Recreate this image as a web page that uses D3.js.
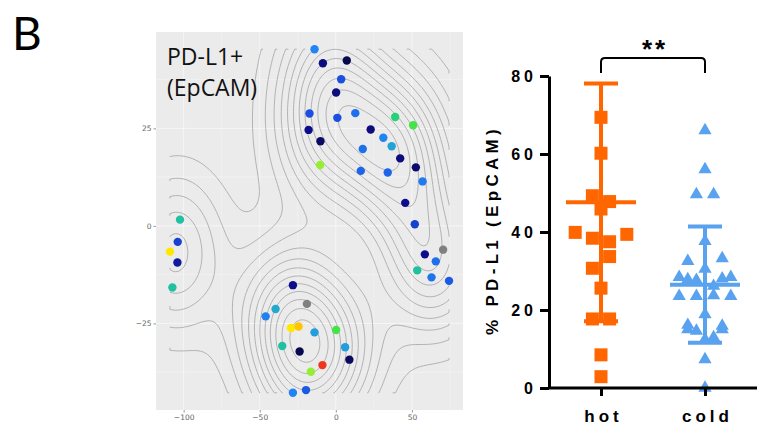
<!DOCTYPE html>
<html>
<head>
<meta charset="utf-8">
<script src="https://cdn.jsdelivr.net/npm/d3@7/dist/d3.min.js"></script>
<style>
  body { margin: 0; background: #fff; }
  svg text { font-family: "Liberation Sans", Arial, sans-serif; }
</style>
</head>
<body>
<svg id="fig" width="761" height="435"></svg>
<script>
// ---- left panel: tSNE map of the cells ----
let tsneX = [-14.0, -8.5, 7.2, 3.5, 0.2, -17.3, 1.0, 12.8, 39.0, 50.8, -17.9, -10.1, 22.9, 31.2, 36.7, 17.7, 42.3,
  -10.3, 16.4, 34.1, 52.6, 57.0, 45.6, 51.9, -102.4, -103.9, -109.0, -104.1, -107.4, 70.5, 58.5, 65.7, 53.5, 62.9,
  74.4, -28.2, -19.0, -39.6, -46.1, -29.5, -24.5, -14.0, 0.2, -35.2, -23.8, 6.1, 8.9, -8.8, -16.4, -28.2, -19.6];
let tsneY = [45.3, 41.7, 42.4, 37.6, 34.2, 28.8, 27.7, 28.9, 27.9, 25.8, 24.6, 21.7, 24.7, 22.6, 20.4, 19.7, 17.3,
  15.6, 14.1, 13.7, 15.0, 11.4, 5.9, 0.4, 1.6, -4.1, -6.6, -9.4, -15.8, -6.1, -7.3, -9.1, -11.4, -13.2, -14.1,
  -15.2, -20.0, -21.3, -23.2, -26.2, -25.8, -27.3, -26.7, -30.8, -32.2, -31.1, -34.3, -35.7, -37.4, -42.8, -42.1];
// PD-L1 level of each cell (0 = low, 1 = high), null = not measured
let tsneLevel = [0.3, 0.08, 0.02, 0.2, 0.08, 0.2, 0.2, 0.26, 0.55, 0.62, 0.1, 0.05, 0.08, 0.3, 0.4, 0.26, 0.08,
  0.7, 0.24, 0.24, 0.06, 0.28, 0.1, 0.18, 0.5, 0.18, 0.82, 0.12, 0.5, null, 0.1, 0.26, 0.5, 0.27, 0.22, 0.1, null,
  0.42, 0.29, 0.82, 0.87, 0.38, 0.62, 0.5, 0.02, 0.38, 0.04, 1.0, 0.7, 0.3, 0.22];
let tsneXTicks = [-100, -50, 0, 50];
let tsneYTicks = [-25, 0, 25];

// ---- right panel: % PD-L1 per tumour ----
let groups = ["hot", "cold"];
let hotValues = [69.4, 60.2, 49.3, 47.8, 45.9, 39.9, 38.4, 37.5, 39.4, 30.7, 33.7, 25.6, 17.7, 17.7, 8.5, 2.9];
let coldValues = [66.3, 56.3, 49.9, 49.9, 37.9, 32.8, 30.8, 33.5, 28.7, 28.1, 27.9, 26.4, 28.3, 28.7, 23.8, 23.8,
  24.0, 23.8, 16.4, 19.1, 16.2, 15.3, 14.9, 12.7, 13.2, 15.3, 7.6, 0.3];
let groupMean = [47.6, 26.5];
let groupSd = [30.5, 14.9];
let pctTicks = [0, 20, 40, 60, 80];

let svg = d3.select("#fig");

// panel letter
svg.append("text").attr("x", 12).attr("y", 50)
  .style("font-family", "Lato, 'Open Sans', sans-serif").style("font-size", "46px")
  .text("B");

// =================== tSNE panel ===================
let px0 = 156, px1 = 463, py0 = 32, py1 = 410;
let xExt = d3.extent(tsneX), yExt = d3.extent(tsneY);
let xPad = (xExt[1] - xExt[0]) * 0.05, yPad = (yExt[1] - yExt[0]) * 0.05;
let x = d3.scaleLinear().domain([xExt[0] - xPad, xExt[1] + xPad]).range([px0, px1]);
let y = d3.scaleLinear().domain([yExt[0] - yPad, yExt[1] + yPad]).range([py1, py0]);

svg.append("rect").attr("x", px0).attr("y", py0).attr("width", px1 - px0).attr("height", py1 - py0)
  .attr("fill", "#ebebeb");

// grid lines (major + minor like ggplot)
let grid = svg.append("g").attr("stroke", "#f6f6f6");
let minorX = tsneXTicks.map(t => t + 25).concat([tsneXTicks[0] - 25]).filter(t => x(t) > px0 && x(t) < px1);
let minorY = tsneYTicks.map(t => t + 12.5).concat([tsneYTicks[0] - 12.5]).filter(t => y(t) > py0 && y(t) < py1);
grid.selectAll(".vmin").data(minorX).enter().append("line")
  .attr("x1", d => x(d)).attr("x2", d => x(d)).attr("y1", py0).attr("y2", py1).attr("stroke-width", 0.5);
grid.selectAll(".hmin").data(minorY).enter().append("line")
  .attr("y1", d => y(d)).attr("y2", d => y(d)).attr("x1", px0).attr("x2", px1).attr("stroke-width", 0.5);
grid.selectAll(".vmaj").data(tsneXTicks).enter().append("line")
  .attr("x1", d => x(d)).attr("x2", d => x(d)).attr("y1", py0).attr("y2", py1).attr("stroke-width", 1);
grid.selectAll(".hmaj").data(tsneYTicks).enter().append("line")
  .attr("y1", d => y(d)).attr("y2", d => y(d)).attr("x1", px0).attr("x2", px1).attr("stroke-width", 1);

// 2D kernel density (same recipe as MASS::kde2d used by geom_density2d)
function bandwidthNrd(v) {
  let s = v.slice().sort(d3.ascending);
  let iqr = d3.quantileSorted(s, 0.75) - d3.quantileSorted(s, 0.25);
  return 4 * 1.06 * Math.min(d3.deviation(v), iqr / 1.34) * Math.pow(v.length, -0.2);
}
let n = 100;
let hx = bandwidthNrd(tsneX) / 4, hy = bandwidthNrd(tsneY) / 4;
let gStepX = (xExt[1] - xExt[0]) / (n - 1), gStepY = (yExt[1] - yExt[0]) / (n - 1);
let dens = new Float64Array(n * n);
let norm = 1 / (tsneX.length * hx * hy * 2 * Math.PI);
for (let j = 0; j < n; j++) {
  let gy = yExt[0] + j * gStepY;
  for (let i = 0; i < n; i++) {
    let gx = xExt[0] + i * gStepX, s = 0;
    for (let k = 0; k < tsneX.length; k++) {
      let u = (gx - tsneX[k]) / hx, w = (gy - tsneY[k]) / hy;
      s += Math.exp(-0.5 * (u * u + w * w));
    }
    dens[j * n + i] = s * norm;
  }
}
let levels = d3.ticks(d3.min(dens), d3.max(dens), 10);
let bands = d3.contours().size([n, n]).thresholds(levels)(dens);

// turn the closed d3 rings into open lines that stop at the grid border
let onEdge = p => p[0] === 0 || p[0] === n || p[1] === 0 || p[1] === n;
let contourLines = [];
bands.forEach(band => band.coordinates.forEach(poly => poly.forEach(ring => {
  let pts = ring.slice();
  let f = pts[0], l = pts[pts.length - 1];
  if (f[0] === l[0] && f[1] === l[1]) pts.pop();
  let m = pts.length;
  let start = pts.findIndex(onEdge);
  if (start < 0) { contourLines.push(pts.concat([pts[0]])); return; }
  let cur = [];
  for (let k = 0; k < m; k++) {
    let a = pts[(start + k) % m], b = pts[(start + k + 1) % m];
    if (onEdge(a) && onEdge(b)) {
      if (cur.length > 1) contourLines.push(cur);
      cur = [];
      continue;
    }
    if (!cur.length) cur.push(a);
    cur.push(b);
  }
  if (cur.length > 1) contourLines.push(cur);
})));

let gridX = c => x(Math.max(xExt[0], Math.min(xExt[1], xExt[0] + (c - 0.5) * gStepX)));
let gridY = c => y(Math.max(yExt[0], Math.min(yExt[1], yExt[0] + (c - 0.5) * gStepY)));
let contourLine = d3.line().x(p => gridX(p[0])).y(p => gridY(p[1]));

svg.append("g").selectAll("path").data(contourLines).enter().append("path")
  .attr("d", contourLine)
  .attr("fill", "none").attr("stroke", "#a3a3a3").attr("stroke-width", 0.8);

// cells
let levelColor = d3.scaleLinear()
  .domain([0, 0.1, 0.2, 0.3, 0.4, 0.5, 0.6, 0.7, 0.82, 0.9, 1])
  .range(["#07073f", "#0d0d8c", "#1a4fe0", "#2184f3", "#22a3d8", "#20c0a0", "#30e050", "#94ef30", "#ffe800", "#ffb000", "#f0361a"]);

svg.append("g").selectAll("circle").data(tsneX).enter().append("circle")
  .attr("cx", d => x(d))
  .attr("cy", (d, i) => y(tsneY[i]))
  .attr("r", 4.2)
  .attr("fill", (d, i) => tsneLevel[i] === null ? "#808080" : levelColor(tsneLevel[i]));

// axes of the tSNE panel
let tAxX = svg.append("g").attr("transform", "translate(0," + py1 + ")")
  .call(d3.axisBottom(x).tickValues(tsneXTicks).tickSize(2.5).tickPadding(2).tickSizeOuter(0));
let tAxY = svg.append("g").attr("transform", "translate(" + px0 + ",0)")
  .call(d3.axisLeft(y).tickValues(tsneYTicks).tickSize(2.5).tickPadding(2).tickSizeOuter(0));
[tAxX, tAxY].forEach(a => {
  a.select(".domain").remove();
  a.selectAll("line").attr("stroke", "#555").attr("stroke-width", 0.6);
  a.selectAll("text").attr("fill", "#666").style("font-size", "7.5px")
    .style("font-family", "'DejaVu Sans', sans-serif");
});

// panel title
let title = svg.append("text").attr("x", 168).attr("y", 65)
  .style("font-family", "'Open Sans', Lato, sans-serif").style("font-size", "23px").attr("fill", "#111");
title.append("tspan").attr("x", 167).text("PD-L1+");
title.append("tspan").attr("x", 167).attr("dy", 31).text("(EpCAM)");

// =================== % PD-L1 panel ===================
let yR = d3.scaleLinear().domain([0, 80]).range([388, 76]);
let xR = d3.scalePoint().domain(groups).range([549, 757]).padding(0.5);
let laneStep = 8.6;
let rowH = 3.2;
let lanePatterns = {
  1: [0], 2: [-1, 1], 3: [-2, 0, 2], 4: [-3, -1, 1, 3],
  5: [-2, -1, 0, 1, 2], 6: [-3, -2, -1, 1, 2, 3], 7: [-3, -2, -1, 0, 1, 2, 3]
};

// spread points with close values side by side (like a column scatter plot)
function lanes(values) {
  let order = d3.range(values.length).sort((a, b) => values[b] - values[a] || a - b);
  let lane = new Array(values.length);
  let i = 0;
  while (i < order.length) {
    let top = values[order[i]];
    let row = [];
    while (i < order.length && top - values[order[i]] <= rowH && row.length < 7) row.push(order[i++]);
    row.sort((a, b) => a - b);
    let pat = lanePatterns[row.length];
    row.forEach((idx, k) => { lane[idx] = pat[k]; });
  }
  return lane;
}

let colors = ["#ff6600", "#58a2f0"];

// mean and SD bars
groups.forEach((g, gi) => {
  let cx = xR(g), c = colors[gi];
  let bars = svg.append("g").attr("stroke", c).attr("stroke-width", 4);
  let lo = groupMean[gi] - groupSd[gi], hi = groupMean[gi] + groupSd[gi];
  bars.append("line").attr("x1", cx).attr("x2", cx).attr("y1", yR(lo)).attr("y2", yR(hi));
  bars.append("line").attr("x1", cx - 17).attr("x2", cx + 17).attr("y1", yR(lo)).attr("y2", yR(lo));
  bars.append("line").attr("x1", cx - 17).attr("x2", cx + 17).attr("y1", yR(hi)).attr("y2", yR(hi));
  bars.append("line").attr("x1", cx - 35).attr("x2", cx + 35).attr("y1", yR(groupMean[gi])).attr("y2", yR(groupMean[gi]));
});

// hot: squares
let hotLane = lanes(hotValues);
svg.append("g").selectAll("rect").data(hotValues).enter().append("rect")
  .attr("x", (d, i) => xR("hot") + hotLane[i] * laneStep - 6.5)
  .attr("y", d => yR(d) - 6.5)
  .attr("width", 13).attr("height", 13)
  .attr("fill", colors[0]);

// cold: triangles
let coldLane = lanes(coldValues);
let tri = d3.symbol(d3.symbolTriangle, 76);
svg.append("g").selectAll("path").data(coldValues).enter().append("path")
  .attr("d", tri)
  .attr("transform", (d, i) => "translate(" + (xR("cold") + coldLane[i] * laneStep) + "," + (yR(d) + 1) + ")")
  .attr("fill", colors[1]);

// axes
let axY = svg.append("g").attr("transform", "translate(549,0)")
  .call(d3.axisLeft(yR).tickValues(pctTicks).tickSize(9).tickPadding(3).tickSizeOuter(0));
let axX = svg.append("g").attr("transform", "translate(0,388)")
  .call(d3.axisBottom(xR).tickSize(8).tickPadding(14).tickSizeOuter(0));
axX.select(".domain").attr("d", "M549,0H757");
[axY, axX].forEach(a => {
  a.selectAll("path, line").attr("stroke", "#000").attr("stroke-width", 3);
  a.selectAll("text").attr("fill", "#000").style("font-weight", "bold");
});
axY.selectAll("text").style("font-size", "16px").style("letter-spacing", "4px");
axX.selectAll("text").style("font-size", "17px").style("letter-spacing", "4px").attr("dx", 2);

// y-axis title
svg.append("text")
  .attr("transform", "translate(498,232) rotate(-90)")
  .attr("text-anchor", "middle").attr("dx", 2)
  .style("font-size", "17px").style("font-weight", "bold").style("letter-spacing", "4.3px")
  .text("% PD-L1 (EpCAM)");

// significance bracket
let bx0 = xR("hot"), bx1 = xR("cold"), by = 58, byEnd = 73, r = 4;
svg.append("path")
  .attr("d", "M" + bx0 + "," + byEnd + "V" + (by + r) + "Q" + bx0 + "," + by + " " + (bx0 + r) + "," + by +
    "H" + (bx1 - r) + "Q" + bx1 + "," + by + " " + bx1 + "," + (by + r) + "V" + byEnd)
  .attr("fill", "none").attr("stroke", "#000").attr("stroke-width", 2);
svg.append("text").attr("x", (bx0 + bx1) / 2 + 2).attr("y", 58)
  .attr("text-anchor", "middle").style("font-size", "26px").style("font-weight", "bold")
  .style("letter-spacing", "3px")
  .text("**");
</script>
</body>
</html>
